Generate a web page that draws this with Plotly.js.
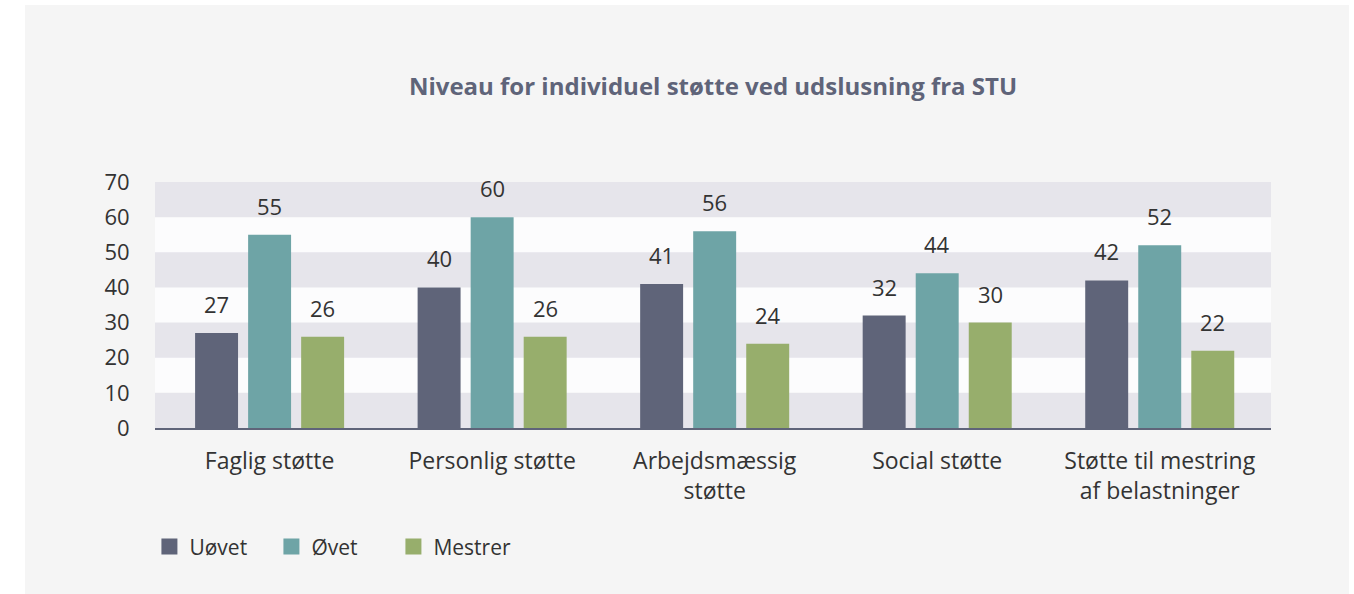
<!DOCTYPE html>
<html>
<head>
<meta charset="utf-8">
<script src="https://cdn.plot.ly/plotly-3.0.1.min.js"></script>
<style>
  html, body { margin: 0; padding: 0; background: #ffffff; }
  #chart { position: absolute; left: 25px; top: 5px; width: 1324px; height: 589px; }
</style>
</head>
<body>
<div id="chart"></div>
<script>
const categories = ['Faglig støtte', 'Personlig støtte', 'Arbejdsmæssig<br>støtte', 'Social støtte', 'Støtte til mestring<br>af belastninger'];
const seriesNames = ['Uøvet', 'Øvet', 'Mestrer'];
const uovet = [27, 40, 41, 32, 42];
const ovet = [55, 60, 56, 44, 52];
const mestrer = [26, 26, 24, 30, 22];
const yTicks = [0, 10, 20, 30, 40, 50, 60, 70];
const colors = ['#5f6479', '#6ea4a6', '#97ae6c'];

const allValues = [uovet, ovet, mestrer];
const font = 'Open Sans, sans-serif';

// bars (legend drawn by dummy traces so the swatches can be bigger)
const traces = allValues.map((vals, i) => ({
  type: 'bar',
  x: categories,
  y: vals,
  name: seriesNames[i],
  marker: { color: colors[i] },
  showlegend: false,
  hoverinfo: 'x+y+name'
}));

seriesNames.forEach((name, i) => {
  traces.push({
    type: 'scatter',
    mode: 'markers',
    x: [null],
    y: [null],
    name: name,
    marker: { symbol: 'square', size: 16, color: colors[i] },
    showlegend: true
  });
});

// alternating bands from the tick values
const shapes = [];
for (let i = 0; i < yTicks.length - 1; i += 2) {
  shapes.push({
    type: 'rect', xref: 'paper', yref: 'y',
    x0: 0, x1: 1, y0: yTicks[i], y1: yTicks[i + 1],
    fillcolor: '#e6e5eb', line: { width: 0 }, layer: 'below'
  });
}

// value labels above bars
const xRange = [-0.515, 4.5];
const plotWidth = 1324 - 130 - 78;
const bargap = 0.285;
const slot = plotWidth / (xRange[1] - xRange[0]) * (1 - bargap) / 3;
const annotations = [];
allValues.forEach((vals, i) => {
  vals.forEach((v, j) => {
    annotations.push({
      x: categories[j], y: v, xref: 'x', yref: 'y',
      text: String(v), showarrow: false,
      xshift: (i - 1) * slot, yshift: 12, yanchor: 'bottom',
      font: { family: font, size: 22, color: '#333333' }
    });
  });
});

const layout = {
  width: 1324,
  height: 589,
  margin: { l: 130, r: 78, t: 177, b: 166 },
  paper_bgcolor: '#f5f5f5',
  plot_bgcolor: '#fcfcfd',
  font: { family: font, size: 22, color: '#333333' },
  title: {
    text: '<b>Niveau for individuel støtte ved udslusning fra STU</b>',
    font: { family: font, size: 24, color: '#5f6479' },
    x: 0.5, xref: 'paper', xanchor: 'center',
    y: 1 - 82 / 589, yanchor: 'middle'
  },
  barmode: 'group',
  bargap: bargap,
  bargroupgap: 0.19,
  xaxis: {
    range: xRange,
    showgrid: false,
    showline: true,
    linecolor: '#5f6479',
    linewidth: 1.5,
    ticks: 'outside', ticklen: 12, tickcolor: 'rgba(0,0,0,0)',
    tickfont: { family: font, size: 23, color: '#333333' },
    zeroline: false
  },
  yaxis: {
    range: [0, 70],
    tickvals: yTicks,
    showgrid: false,
    zeroline: false,
    ticks: 'outside', ticklen: 20, tickcolor: 'rgba(0,0,0,0)',
    tickfont: { family: font, size: 22, color: '#333333' }
  },
  shapes: shapes,
  annotations: annotations,
  showlegend: true,
  legend: {
    orientation: 'h',
    x: -0.005, xanchor: 'left',
    y: -0.4, yanchor: 'top',
    font: { family: font, size: 21, color: '#333333' },
    bgcolor: 'rgba(0,0,0,0)',
    entrywidth: 77,
    entrywidthmode: 'pixels'
  }
};

Plotly.newPlot('chart', traces, layout, { displayModeBar: false, responsive: false });
</script>
</body>
</html>
